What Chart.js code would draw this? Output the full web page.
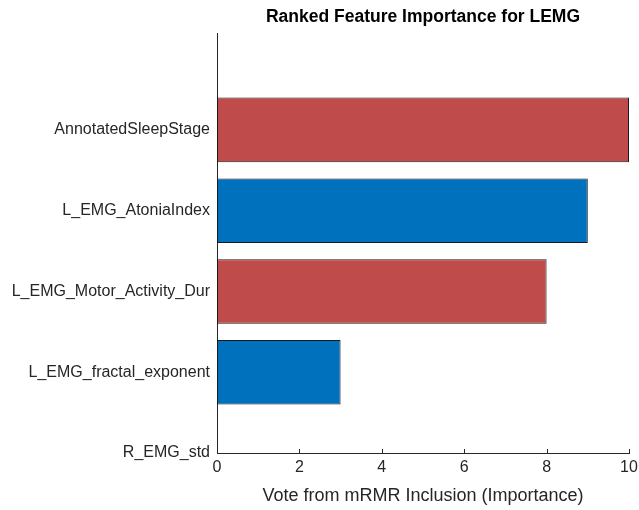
<!DOCTYPE html>
<html><head><meta charset="utf-8">
<script src="https://cdn.jsdelivr.net/npm/chart.js@4/dist/chart.umd.min.js"></script>
<style>html,body{margin:0;padding:0;background:#fff}#wrap{width:639px;height:510px}</style>
</head><body><div id="wrap"><canvas id="c" width="639" height="510"></canvas></div>
<script>
const categories = ['AnnotatedSleepStage','L_EMG_AtoniaIndex','L_EMG_Motor_Activity_Dur','L_EMG_fractal_exponent','R_EMG_std'];
const votes = [10, 9, 8, 3, 0];
const barColors = ['rgb(191,76,74)','rgb(0,114,189)','rgb(191,76,74)','rgb(0,114,189)','rgb(0,114,189)'];
const xTicks = [0, 2, 4, 6, 8, 10];
const positions = categories.map((c, i) => categories.length - 1 - i);

const TXT = '#262626';
const FONT = '"Liberation Sans", Arial, sans-serif';

const inwardTicks = {
  id: 'inwardTicks',
  afterDraw(chart) {
    const ctx = chart.ctx, xs = chart.scales.x, area = chart.chartArea;
    ctx.save();
    ctx.strokeStyle = TXT; ctx.lineWidth = 1;
    xs.ticks.forEach(t => {
      const px = Math.round(xs.getPixelForValue(t.value)) + 0.5;
      ctx.beginPath(); ctx.moveTo(px, area.bottom); ctx.lineTo(px, area.bottom - 4); ctx.stroke();
    });
    ctx.restore();
  }
};

new Chart(document.getElementById('c'), {
  type: 'bar',
  data: {
    datasets: [{
      data: votes.map((v, i) => ({ x: v, y: positions[i] })),
      backgroundColor: barColors,
      borderColor: '#1a1a1a',
      borderWidth: 1,
      borderSkipped: false,
      barPercentage: 0.8,
      categoryPercentage: 1
    }]
  },
  options: {
    indexAxis: 'y',
    responsive: false,
    animation: false,
    layout: { padding: { left: 0, right: 10, top: 0, bottom: 0 } },
    plugins: {
      legend: { display: false },
      tooltip: { enabled: false },
      title: {
        display: true, fullSize: false,
        text: 'Ranked Feature Importance for LEMG',
        color: '#000',
        font: { family: FONT, size: 17.5, weight: 'bold' },
        padding: { top: 7, bottom: 5 }
      }
    },
    scales: {
      x: {
        type: 'linear', min: 0, max: 10, offset: false,
        afterBuildTicks: s => { s.ticks = xTicks.map(v => ({ value: v })); },
        afterFit: s => { s.height = 57; s.paddingRight = 0; s.paddingLeft = 0; },
        grid: { display: false, drawTicks: false, offset: false },
        border: { display: true, color: TXT, width: 1 },
        ticks: { color: TXT, font: { family: FONT, size: 16 }, padding: 5 },
        title: { display: true, text: 'Vote from mRMR Inclusion (Importance)', color: TXT,
                 font: { family: FONT, size: 18 }, padding: { top: 0, bottom: 3 } }
      },
      y: {
        type: 'linear', min: 0, max: 5.2, offset: false,
        afterBuildTicks: s => { s.ticks = positions.map(v => ({ value: v })); },
        afterFit: s => { s.width = 217; },
        grid: { display: false, drawTicks: false, offset: false },
        border: { display: true, color: TXT, width: 1 },
        ticks: {
          color: TXT, font: { family: FONT, size: 16 }, padding: 7,
          callback: v => categories[categories.length - 1 - v]
        }
      }
    }
  },
  plugins: [inwardTicks]
});
</script>
</body></html>
